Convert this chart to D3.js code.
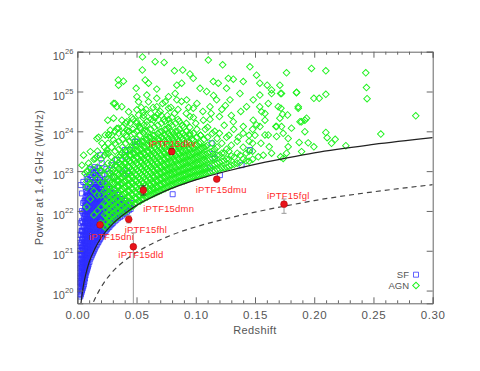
<!DOCTYPE html>
<html>
<head>
<meta charset="utf-8">
<script src="https://cdn.jsdelivr.net/npm/d3@7/dist/d3.min.js"></script>
<style>
    body { margin: 0; background: #fff; }
    svg { display: block; font-family: "Liberation Sans", Arial, sans-serif; }
</style>
</head>
<body>
<svg id="chart" width="480" height="371"></svg>
<script>
// axis ticks
const xMajorTicks = [0, 0.05, 0.10, 0.15, 0.20, 0.25, 0.30];
const xMinorTicks = [0.01, 0.02, 0.03, 0.04, 0.06, 0.07, 0.08, 0.09, 0.11, 0.12, 0.13, 0.14,
    0.16, 0.17, 0.18, 0.19, 0.21, 0.22, 0.23, 0.24, 0.26, 0.27, 0.28, 0.29];
const yTickExps = [20, 21, 22, 23, 24, 25, 26];

// detection limit curves [z, log P]
const solidCurve = [[0.0025, 19.5], [0.003, 19.65], [0.005, 20.1], [0.0075, 20.45], [0.01, 20.71],
    [0.015, 21.06], [0.02, 21.32], [0.03, 21.68], [0.04, 21.93], [0.05, 22.14], [0.06, 22.30],
    [0.075, 22.51], [0.1, 22.78], [0.125, 22.99], [0.15, 23.17], [0.175, 23.32], [0.2, 23.46],
    [0.25, 23.67], [0.3, 23.84]];
const dashedCurve = [[0.0115, 19.5], [0.0125, 19.62], [0.015, 19.8], [0.02, 20.08], [0.03, 20.48],
    [0.04, 20.75], [0.05, 20.96], [0.06, 21.13], [0.08, 21.40], [0.1, 21.6], [0.125, 21.8],
    [0.15, 21.97], [0.175, 22.12], [0.2, 22.26], [0.25, 22.48], [0.3, 22.66]];

// SF galaxies: dense columns [z, [log P ...]] and scattered [z, log P]
const sfColumns = [
    [0.0008, [20.7, 21.0, 21.4]],
    [0.0015, [19.9, 20.1, 20.3, 20.5]],
    [0.002, [19.92, 20.08, 20.25, 20.45, 20.65, 20.9, 21.2]],
    [0.0025, [19.85, 20.0, 20.2, 20.35, 20.55, 20.75, 21.0]],
    [0.003, [19.9, 20.05, 20.18, 20.32, 20.48, 20.68, 20.9, 21.15, 21.4, 21.7]],
    [0.0035, [19.95, 20.1, 20.25, 20.4, 20.6, 20.8, 21.0, 21.2, 21.5]],
    [0.004, [20.0, 20.15, 20.3, 20.45, 20.58, 20.72, 20.9, 21.08, 21.28, 21.5, 21.75, 22.0]],
    [0.0045, [20.05, 20.2, 20.35, 20.5, 20.65, 20.8, 21.0, 21.15, 21.35, 21.6]],
    [0.005, [20.1, 20.25, 20.4, 20.55, 20.7, 20.85, 21.0, 21.12, 21.3, 21.5, 21.72, 21.95, 22.2]],
    [0.0055, [20.15, 20.3, 20.45, 20.6, 20.75, 20.9, 21.05, 21.2, 21.4, 21.6, 21.85]],
    [0.006, [20.22, 20.38, 20.52, 20.68, 20.82, 20.98, 21.12, 21.28, 21.45, 21.62, 21.8, 22.0, 22.25]],
    [0.0065, [20.3, 20.45, 20.6, 20.75, 20.9, 21.05, 21.2, 21.35, 21.5, 21.7, 21.9, 22.1]],
    [0.007, [20.38, 20.52, 20.68, 20.82, 20.98, 21.12, 21.28, 21.42, 21.58, 21.75, 21.92, 22.1, 22.35, 22.6]],
    [0.0075, [20.45, 20.6, 20.75, 20.9, 21.05, 21.2, 21.35, 21.5, 21.65, 21.8, 22.0, 22.2]],
    [0.008, [20.5, 20.65, 20.8, 20.95, 21.1, 21.25, 21.4, 21.55, 21.7, 21.85, 22.0, 22.18, 22.38, 22.6, 22.85]],
    [0.0085, [20.55, 20.7, 20.85, 21.0, 21.15, 21.3, 21.45, 21.6, 21.75, 21.9, 22.05, 22.25, 22.45]],
    [0.009, [20.6, 20.75, 20.9, 21.05, 21.2, 21.35, 21.5, 21.65, 21.8, 21.95, 22.1, 22.25, 22.4, 22.6, 22.8]],
    [0.0095, [20.65, 20.8, 20.95, 21.1, 21.25, 21.4, 21.55, 21.7, 21.85, 22.0, 22.15, 22.3, 22.5]],
    [0.0103, [20.72, 20.88, 21.02, 21.18, 21.32, 21.48, 21.62, 21.78, 21.92, 22.08, 22.22, 22.38, 22.55, 22.72, 22.9]],
    [0.011, [20.8, 20.95, 21.1, 21.25, 21.4, 21.55, 21.7, 21.85, 22.0, 22.15, 22.3, 22.45, 22.6]],
    [0.0118, [20.85, 21.0, 21.15, 21.3, 21.45, 21.6, 21.75, 21.9, 22.05, 22.2, 22.35, 22.5, 22.68, 22.85, 23.05]],
    [0.0125, [20.9, 21.05, 21.2, 21.35, 21.5, 21.65, 21.8, 21.95, 22.1, 22.25, 22.4, 22.55]],
    [0.0133, [20.95, 21.1, 21.25, 21.4, 21.55, 21.7, 21.85, 22.0, 22.15, 22.3, 22.45, 22.6, 22.78, 22.95]],
    [0.014, [21.0, 21.15, 21.3, 21.45, 21.6, 21.75, 21.9, 22.05, 22.2, 22.35, 22.5, 22.7]],
    [0.0148, [21.05, 21.2, 21.35, 21.5, 21.65, 21.8, 21.95, 22.1, 22.25, 22.4, 22.55, 22.72, 22.9, 23.1]],
    [0.0155, [21.1, 21.25, 21.4, 21.55, 21.7, 21.85, 22.0, 22.15, 22.3, 22.45, 22.6]],
    [0.0163, [21.14, 21.28, 21.42, 21.58, 21.72, 21.88, 22.02, 22.18, 22.32, 22.48, 22.65, 22.82, 23.0]],
    [0.017, [21.18, 21.32, 21.46, 21.6, 21.75, 21.9, 22.05, 22.2, 22.35, 22.5, 22.7]],
    [0.0178, [21.22, 21.36, 21.5, 21.65, 21.8, 21.95, 22.1, 22.25, 22.4, 22.55, 22.72, 22.9]],
    [0.0185, [21.26, 21.4, 21.55, 21.7, 21.85, 22.0, 22.15, 22.3, 22.45, 22.6]],
    [0.0193, [21.3, 21.44, 21.58, 21.72, 21.88, 22.02, 22.18, 22.32, 22.48, 22.65, 22.82, 23.0]],
    [0.020, [21.34, 21.48, 21.62, 21.78, 21.92, 22.08, 22.22, 22.38, 22.55]],
    [0.021, [21.38, 21.52, 21.66, 21.8, 21.95, 22.1, 22.25, 22.4, 22.55, 22.72, 22.9]],
    [0.022, [21.42, 21.56, 21.7, 21.85, 22.0, 22.15, 22.3, 22.45]],
    [0.023, [21.46, 21.6, 21.74, 21.88, 22.03, 22.18, 22.32, 22.48, 22.64, 22.8]],
    [0.024, [21.5, 21.64, 21.78, 21.92, 22.06, 22.2, 22.35, 22.5]],
    [0.025, [21.54, 21.68, 21.82, 21.96, 22.1, 22.25, 22.4, 22.55, 22.72]],
    [0.026, [21.58, 21.72, 21.86, 22.0, 22.15, 22.3, 22.45]],
    [0.027, [21.6, 21.74, 21.88, 22.02, 22.16, 22.3, 22.45, 22.6]],
    [0.028, [21.64, 21.78, 21.92, 22.06, 22.2, 22.35]],
    [0.029, [21.67, 21.8, 21.94, 22.08, 22.22, 22.38, 22.55]],
    [0.030, [21.7, 21.84, 21.98, 22.12, 22.28, 22.45]],
    [0.0315, [21.74, 21.88, 22.02, 22.16, 22.3, 22.45]],
    [0.033, [21.78, 21.92, 22.06, 22.2, 22.35]],
    [0.0345, [21.82, 21.95, 22.1, 22.25, 22.4]],
    [0.036, [21.85, 22.0, 22.15, 22.3]],
    [0.0375, [21.88, 22.02, 22.16, 22.3]],
    [0.039, [21.92, 22.05, 22.2]],
    [0.0405, [21.95, 22.1, 22.25]],
    [0.042, [21.98, 22.12]],
    [0.0435, [22.02, 22.16]],
    [0.045, [22.05, 22.2]]
];
const sfScatter = [[0.018, 23.07], [0.0292, 23.15], [0.0334, 23.28], [0.0405, 23.36], [0.0503, 23.74],
    [0.0095, 22.57], [0.0152, 22.86], [0.0039, 22.44], [0.022, 22.74], [0.0067, 22.27], [0.0264, 22.94],
    [0.0447, 23.53], [0.0192, 23.40], [0.0135, 23.03], [0.0206, 23.2], [0.0107, 22.73], [0.0051, 22.73],
    [0.0028, 22.65], [0.0403, 23.53], [0.0487, 23.74], [0.0388, 22.94], [0.1148, 23.43], [0.116, 23.32],
    [0.1134, 23.70], [0.1457, 23.53], [0.1387, 23.15], [0.1204, 22.9], [0.112, 23.07], [0.0805, 22.42],
    [0.0345, 22.62], [0.0312, 22.85], [0.0158, 22.95], [0.0075, 22.48], [0.0245, 23.05], [0.0422, 23.0]];

// AGN: dense columns and scattered
const agnColumns = [
    [0.008, [22.1, 22.6, 23.0]],
    [0.011, [22.3, 22.7, 23.1]],
    [0.014, [21.9, 22.5, 22.9, 23.3]],
    [0.017, [22.0, 22.4, 22.8, 23.1, 23.5]],
    [0.020, [21.7, 22.1, 22.4, 22.7, 23.0, 23.3]],
    [0.023, [21.6, 21.9, 22.2, 22.5, 22.7, 22.9, 23.1, 23.4, 23.6]],
    [0.0245, [21.58, 21.72, 21.88, 22.03, 22.18, 22.35, 22.52, 22.68]],
    [0.026, [21.65, 21.8, 21.95, 22.1, 22.3, 22.45, 22.6, 22.8, 23.0, 23.2, 23.45, 23.7]],
    [0.0275, [21.68, 21.83, 21.98, 22.13, 22.28, 22.43, 22.6, 22.77, 22.95]],
    [0.029, [21.75, 21.9, 22.05, 22.2, 22.35, 22.5, 22.7, 22.85, 23.0, 23.2, 23.35, 23.6, 23.9]],
    [0.0305, [21.77, 21.92, 22.07, 22.22, 22.38, 22.53, 22.68, 22.85, 23.05]],
    [0.032, [21.8, 21.95, 22.1, 22.25, 22.4, 22.55, 22.7, 22.85, 23.0, 23.15, 23.3, 23.5, 23.7, 24.0]],
    [0.0335, [21.85, 22.0, 22.15, 22.3, 22.45, 22.62, 22.78, 22.95, 23.12]],
    [0.035, [21.88, 22.0, 22.15, 22.3, 22.45, 22.6, 22.75, 22.9, 23.05, 23.2, 23.35, 23.55, 23.75, 23.95]],
    [0.0365, [21.92, 22.07, 22.22, 22.37, 22.52, 22.68, 22.83, 23.0, 23.18, 23.4]],
    [0.038, [21.95, 22.1, 22.25, 22.4, 22.55, 22.7, 22.85, 23.0, 23.15, 23.3, 23.45, 23.6, 23.8, 24.1]],
    [0.0395, [21.98, 22.13, 22.28, 22.43, 22.58, 22.73, 22.88, 23.03, 23.2, 23.4]],
    [0.041, [22.0, 22.15, 22.3, 22.45, 22.6, 22.75, 22.9, 23.05, 23.2, 23.35, 23.5, 23.7, 23.9, 24.2]],
    [0.0425, [22.05, 22.2, 22.35, 22.5, 22.65, 22.8, 22.95, 23.12, 23.3, 23.5]],
    [0.044, [22.07, 22.2, 22.35, 22.5, 22.65, 22.8, 22.95, 23.1, 23.25, 23.4, 23.55, 23.75, 24.0]],
    [0.0455, [22.12, 22.27, 22.42, 22.57, 22.72, 22.88, 23.05, 23.22, 23.4, 23.6]],
    [0.047, [22.12, 22.25, 22.4, 22.55, 22.7, 22.85, 23.0, 23.15, 23.3, 23.45, 23.6, 23.8, 24.05, 24.3]],
    [0.0485, [22.18, 22.33, 22.48, 22.63, 22.78, 22.93, 23.1, 23.27, 23.45, 23.65]],
    [0.050, [22.2, 22.32, 22.45, 22.6, 22.75, 22.9, 23.05, 23.2, 23.35, 23.5, 23.65, 23.8, 24.0, 24.2]],
    [0.0515, [22.24, 22.39, 22.54, 22.69, 22.84, 23.0, 23.16, 23.33, 23.5, 23.7]],
    [0.053, [22.24, 22.38, 22.5, 22.65, 22.8, 22.95, 23.1, 23.25, 23.4, 23.55, 23.7, 23.9, 24.1]],
    [0.0545, [22.29, 22.44, 22.59, 22.74, 22.9, 23.06, 23.22, 23.38, 23.55, 23.75]],
    [0.056, [22.3, 22.42, 22.55, 22.7, 22.85, 23.0, 23.15, 23.3, 23.45, 23.6, 23.75, 23.95, 24.15, 24.4]],
    [0.0575, [22.34, 22.49, 22.64, 22.79, 22.95, 23.1, 23.26, 23.42, 23.6, 23.8]],
    [0.059, [22.35, 22.48, 22.6, 22.75, 22.9, 23.05, 23.2, 23.35, 23.5, 23.65, 23.8, 24.0, 24.25]],
    [0.0605, [22.38, 22.53, 22.68, 22.84, 23.0, 23.16, 23.32, 23.48, 23.65, 23.85]],
    [0.062, [22.4, 22.52, 22.65, 22.8, 22.95, 23.1, 23.25, 23.4, 23.55, 23.7, 23.85, 24.05, 24.3]],
    [0.0635, [22.42, 22.57, 22.72, 22.88, 23.04, 23.2, 23.36, 23.52, 23.7, 23.9]],
    [0.065, [22.44, 22.56, 22.7, 22.85, 23.0, 23.15, 23.3, 23.45, 23.6, 23.75, 23.9, 24.1, 24.35]],
    [0.0665, [22.46, 22.61, 22.76, 22.92, 23.08, 23.24, 23.4, 23.56, 23.74]],
    [0.068, [22.48, 22.6, 22.75, 22.9, 23.05, 23.2, 23.35, 23.5, 23.65, 23.8, 23.95, 24.15]],
    [0.0695, [22.5, 22.65, 22.8, 22.96, 23.12, 23.28, 23.44, 23.6, 23.78, 23.98]],
    [0.071, [22.52, 22.65, 22.8, 22.95, 23.1, 23.25, 23.4, 23.55, 23.7, 23.85, 24.0, 24.2, 24.4]],
    [0.0725, [22.55, 22.7, 22.85, 23.0, 23.16, 23.32, 23.48, 23.64, 23.82]],
    [0.074, [22.56, 22.7, 22.85, 23.0, 23.15, 23.3, 23.45, 23.6, 23.75, 23.9, 24.05, 24.25]],
    [0.0755, [22.59, 22.74, 22.89, 23.04, 23.2, 23.36, 23.52, 23.68, 23.86, 24.05]],
    [0.077, [22.6, 22.74, 22.9, 23.05, 23.2, 23.35, 23.5, 23.65, 23.8, 23.95, 24.1, 24.3]],
    [0.0785, [22.63, 22.78, 22.93, 23.08, 23.24, 23.4, 23.56, 23.72, 23.9]],
    [0.080, [22.64, 22.78, 22.92, 23.08, 23.22, 23.38, 23.52, 23.68, 23.82, 23.98, 24.15, 24.35]],
    [0.0815, [22.66, 22.81, 22.96, 23.12, 23.28, 23.44, 23.6, 23.76, 23.94]],
    [0.083, [22.68, 22.82, 22.96, 23.1, 23.26, 23.4, 23.56, 23.7, 23.86, 24.0, 24.2]],
    [0.0845, [22.7, 22.85, 23.0, 23.16, 23.32, 23.48, 23.64, 23.8, 24.0]],
    [0.086, [22.72, 22.86, 23.0, 23.15, 23.3, 23.45, 23.6, 23.75, 23.9, 24.05, 24.25]],
    [0.0875, [22.73, 22.88, 23.03, 23.19, 23.35, 23.51, 23.67, 23.85]],
    [0.089, [22.75, 22.9, 23.05, 23.2, 23.35, 23.5, 23.65, 23.8, 23.95, 24.15]],
    [0.0905, [22.76, 22.91, 23.06, 23.22, 23.38, 23.54, 23.7, 23.9]],
    [0.092, [22.78, 22.92, 23.08, 23.22, 23.38, 23.52, 23.68, 23.85, 24.0, 24.2]],
    [0.0935, [22.8, 22.95, 23.1, 23.26, 23.42, 23.58, 23.76]],
    [0.095, [22.82, 22.96, 23.1, 23.26, 23.4, 23.56, 23.72, 23.9, 24.1]],
    [0.0965, [22.83, 22.98, 23.13, 23.29, 23.45, 23.62, 23.8]],
    [0.098, [22.85, 23.0, 23.15, 23.3, 23.45, 23.6, 23.78, 23.95]],
    [0.0995, [22.86, 23.01, 23.16, 23.32, 23.48, 23.66]],
    [0.101, [22.88, 23.02, 23.18, 23.34, 23.5, 23.66, 23.85, 24.05]],
    [0.1025, [22.88, 23.03, 23.18, 23.35, 23.52, 23.7]],
    [0.104, [22.9, 23.05, 23.2, 23.38, 23.55, 23.72, 23.9]],
    [0.1055, [22.91, 23.06, 23.22, 23.4, 23.58]],
    [0.107, [22.92, 23.08, 23.25, 23.42, 23.6, 23.8]],
    [0.1085, [22.93, 23.08, 23.25, 23.42, 23.62]],
    [0.110, [22.95, 23.1, 23.28, 23.45, 23.65, 23.85, 24.1]],
    [0.112, [22.97, 23.12, 23.3, 23.48]],
    [0.114, [23.0, 23.15, 23.32, 23.5, 23.7, 23.95]],
    [0.116, [23.01, 23.17, 23.35, 23.55]],
    [0.118, [23.04, 23.2, 23.4, 23.6, 23.82]],
    [0.120, [23.05, 23.22, 23.4]],
    [0.122, [23.08, 23.25, 23.45, 23.7]],
    [0.124, [23.08, 23.26, 23.45]],
    [0.126, [23.1, 23.3, 23.55, 23.85]],
    [0.128, [23.12, 23.3, 23.5]],
    [0.130, [23.15, 23.38, 23.65]],
    [0.1325, [23.17, 23.35]],
    [0.135, [23.2, 23.45, 23.75]],
    [0.1375, [23.22, 23.4]],
    [0.140, [23.3, 23.6]],
    [0.1425, [23.26, 23.45]],
    [0.145, [23.25, 23.5, 23.9]],
    [0.148, [23.3, 23.5, 23.7]]
];
const agnScatter = [
    // upper left
    [0.055, 25.87], [0.0657, 25.75], [0.0733, 25.73], [0.082, 25.52], [0.039, 25.26], [0.0348, 25.16],
    [0.0497, 25.08], [0.0573, 25.29], [0.0601, 25.21], [0.0671, 25.06], [0.084, 25.16], [0.0826, 24.95],
    [0.0503, 24.87], [0.0587, 24.91], [0.0517, 24.74], [0.0601, 24.74], [0.0671, 24.83], [0.077, 24.87],
    [0.0742, 24.74], [0.0306, 24.70], [0.0334, 24.62], [0.0376, 24.62], [0.0433, 24.49], [0.0503, 24.54],
    [0.0517, 24.41], [0.0559, 24.49], [0.0671, 24.62], [0.0685, 24.45], [0.077, 24.58], [0.0306, 24.33],
    [0.0376, 24.28], [0.0419, 24.24], [0.0447, 24.20], [0.0348, 24.08], [0.0419, 24.03], [0.0503, 24.24],
    [0.0559, 24.33], [0.0264, 23.91], [0.018, 23.85], [0.0419, 23.87], [0.0531, 24.08], [0.0587, 24.16],
    [0.0643, 24.28], [0.084, 24.79], [0.0549, 25.54], [0.0346, 25.29], [0.0318, 24.70], [0.0257, 24.28],
    [0.0265, 23.92], [0.0164, 23.36], [0.0084, 22.98], [0.0065, 22.94], [0.0243, 23.45],
    [0.0166, 23.82], [0.0208, 23.70], [0.011, 23.49], [0.0053, 23.40], [0.0039, 23.15], [0.0095, 23.2],
    [0.0152, 23.32], [0.0236, 23.91], [0.0278, 24.03], [0.0334, 24.07], [0.0306, 23.78], [0.039, 23.95],
    [0.025, 23.53], [0.0194, 23.03], [0.0081, 22.74],
    [0.062, 24.45], [0.066, 24.35], [0.07, 24.5], [0.073, 24.3], [0.076, 24.4], [0.079, 24.6],
    [0.082, 24.45], [0.085, 24.3], [0.072, 24.7], [0.078, 24.2], [0.064, 24.6], [0.058, 24.55],
    [0.054, 24.6], [0.046, 24.35], [0.043, 24.0], [0.048, 23.95], [0.052, 24.15], [0.057, 24.0],
    // middle
    [0.1106, 25.79], [0.1227, 25.67], [0.1457, 25.62], [0.089, 25.54], [0.0951, 25.44], [0.0979, 25.33],
    [0.1766, 25.47], [0.1275, 25.33], [0.1317, 25.31], [0.1401, 25.25], [0.1513, 25.41], [0.1541, 25.21],
    [0.1603, 25.16], [0.1148, 25.25], [0.119, 25.21], [0.0881, 25.21], [0.126, 25.08], [0.1036, 25.08],
    [0.1092, 25.0], [0.1373, 24.95], [0.1541, 24.91], [0.164, 24.95], [0.1724, 24.95], [0.185, 24.97],
    [0.0923, 24.79], [0.1176, 24.79], [0.1289, 24.79], [0.1485, 24.79], [0.1612, 24.70], [0.1696, 24.62],
    [0.1865, 24.58], [0.0979, 24.58], [0.112, 24.62], [0.1429, 24.62], [0.1556, 24.49], [0.1921, 24.28],
    [0.188, 24.24], [0.171, 24.33], [0.1513, 24.16], [0.1584, 24.28], [0.1682, 24.12], [0.1808, 24.08],
    [0.1738, 23.95], [0.1921, 23.99], [0.1612, 23.91], [0.1401, 24.12], [0.1317, 24.24], [0.12, 24.37],
    [0.1064, 24.28], [0.0951, 24.37],
    [0.09, 24.1], [0.095, 23.95], [0.1, 24.2], [0.104, 23.9], [0.108, 24.05], [0.112, 24.3],
    [0.116, 24.0], [0.12, 23.95], [0.124, 24.15], [0.128, 23.9], [0.132, 24.05], [0.136, 23.85],
    [0.14, 23.95], [0.145, 23.75], [0.15, 23.9], [0.155, 23.7], [0.148, 24.05], [0.092, 24.45],
    [0.098, 24.35], [0.106, 24.5], [0.113, 24.45], [0.122, 24.55], [0.13, 24.4], [0.138, 24.5],
    [0.085, 24.55], [0.088, 24.75], [0.094, 24.6], [0.101, 24.7], [0.115, 24.9], [0.125, 24.65],
    // right
    [0.1977, 25.58], [0.2098, 25.52], [0.2435, 25.47], [0.2441, 25.10], [0.2446, 24.82], [0.1851, 24.98],
    [0.1997, 24.83], [0.2042, 24.83], [0.2098, 24.93], [0.1716, 24.95], [0.1865, 24.62], [0.1935, 24.33],
    [0.1893, 24.24], [0.2857, 24.39], [0.2562, 23.93], [0.2098, 23.97], [0.2109, 23.84], [0.2177, 23.80],
    [0.2146, 23.70], [0.2267, 23.64], [0.1997, 23.61], [0.1949, 23.71], [0.1873, 23.72], [0.1893, 23.49],
    [0.178, 23.82], [0.178, 23.61], [0.1766, 23.45], [0.1716, 23.36], [0.1738, 23.32], [0.164, 23.45],
    [0.162, 23.61], [0.1682, 23.87], [0.1724, 24.12], [0.1676, 24.12], [0.1733, 24.43], [0.1775, 24.41],
    [0.1719, 24.58], [0.157, 23.40], [0.1528, 23.36], [0.1584, 23.91], [0.1542, 24.12], [0.1485, 24.28],
    [0.1584, 24.45], [0.164, 25.04], [0.171, 25.16], [0.154, 24.62]
];

// iPTF transients
const iptfNames = ['iPTF15dkv', 'iPTF15dmu', 'iPTF15dmn', 'iPTF15fhl', 'iPTF15dni', 'iPTF15dld', 'iPTF15fgl'];
const iptfZ = [0.0797, 0.1177, 0.0557, 0.0434, 0.0192, 0.0473, 0.1745];
const iptfLogP = [23.49, 22.80, 22.52, 21.79, 21.65, 21.10, 22.17];
const iptfLogPLow = [23.42, 22.77, 22.40, 21.70, 21.60, 19.0, 21.94];
const iptfLogPHigh = [23.57, 22.83, 22.63, 21.88, 21.70, 21.45, 22.30];

// layout for labels (text anchor start, offset from the point)
const labelOffsets = [[-23, -5], [-21, 14], [0, 21.5], [-4, 14], [-11, 15], [-15, 11], [-17, -5]];
const greyBars = [false, false, false, true, false, true, true];

const plot = { left: 77.3, right: 432.7, top: 51.7, bottom: 303.3 };

const svg = d3.select('#chart');

const x = d3.scaleLinear().domain([0, 0.3]).range([plot.left, plot.right]);
const y = d3.scaleLog().domain([Math.pow(10, 19.68), 1e26]).range([plot.bottom, plot.top]);
const py = v => y(Math.pow(10, v));

svg.append('defs').append('clipPath').attr('id', 'plotClip')
    .append('rect')
        .attr('x', plot.left).attr('y', plot.top)
        .attr('width', plot.right - plot.left).attr('height', plot.bottom - plot.top);

const sfPoints = sfColumns.flatMap(c => c[1].map(p => [c[0], p])).concat(sfScatter);
const agnPoints = agnColumns.flatMap(c => c[1].map(p => [c[0], p])).concat(agnScatter);

const marks = svg.append('g').attr('clip-path', 'url(#plotClip)');

const square = d3.symbol(d3.symbolSquare, 25)();
const diamond = d3.symbol(d3.symbolSquare, 22)();
const sfColor = '#2f2fff', agnColor = '#1ef21e';

marks.append('g').selectAll('path')
    .data(sfPoints).enter()
    .append('path')
        .attr('d', square)
        .attr('transform', d => 'translate(' + x(d[0]) + ',' + py(d[1]) + ')')
        .attr('fill', 'none')
        .attr('stroke', sfColor)
        .attr('stroke-width', 0.8);

marks.append('g').selectAll('path')
    .data(agnPoints).enter()
    .append('path')
        .attr('d', diamond)
        .attr('transform', d => 'translate(' + x(d[0]) + ',' + py(d[1]) + ') rotate(45)')
        .attr('fill', 'none')
        .attr('stroke', agnColor)
        .attr('stroke-width', 0.95);

const line = d3.line()
    .x(d => x(d[0]))
    .y(d => py(d[1]))
    .curve(d3.curveMonotoneX);

marks.append('path')
    .attr('d', line(dashedCurve))
    .attr('fill', 'none')
    .attr('stroke', '#444')
    .attr('stroke-width', 1.2)
    .attr('stroke-dasharray', '5,4');

marks.append('path')
    .attr('d', line(solidCurve))
    .attr('fill', 'none')
    .attr('stroke', '#222')
    .attr('stroke-width', 1.2);

// error bars
const bars = marks.append('g');
iptfNames.forEach(function(name, i) {
    const cx = x(iptfZ[i]);
    const col = greyBars[i] ? '#999' : '#333';
    bars.append('line')
        .attr('x1', cx).attr('x2', cx)
        .attr('y1', py(iptfLogPHigh[i])).attr('y2', py(iptfLogPLow[i]))
        .attr('stroke', col).attr('stroke-width', 1);
    [iptfLogPHigh[i], iptfLogPLow[i]].forEach(function(v) {
        bars.append('line')
            .attr('x1', cx - 2.5).attr('x2', cx + 2.5)
            .attr('y1', py(v)).attr('y2', py(v))
            .attr('stroke', col).attr('stroke-width', 1);
    });
});

marks.append('g').selectAll('circle')
    .data(iptfNames).enter()
    .append('circle')
        .attr('cx', (d, i) => x(iptfZ[i]))
        .attr('cy', (d, i) => py(iptfLogP[i]))
        .attr('r', 3.4)
        .attr('fill', '#e8141b')
        .attr('stroke', '#a00')
        .attr('stroke-width', 0.5);

svg.append('g').selectAll('text')
    .data(iptfNames).enter()
    .append('text')
        .attr('x', (d, i) => x(iptfZ[i]) + labelOffsets[i][0])
        .attr('y', (d, i) => py(iptfLogP[i]) + labelOffsets[i][1])
        .attr('fill', '#ff2a2a')
        .attr('font-size', '9.5px')
        .attr('letter-spacing', '0.2px')
        .text(d => d);

// axes
const axisCol = '#666';
function styleAxis(g) {
    g.selectAll('path.domain').attr('stroke', axisCol);
    g.selectAll('.tick line').attr('stroke', axisCol);
    g.selectAll('.tick text').attr('fill', '#555');
}

svg.append('g')
    .attr('transform', 'translate(0,' + plot.bottom + ')')
    .call(d3.axisBottom(x).tickValues(xMajorTicks).tickSize(-6).tickPadding(8).tickFormat(d3.format('.2f')))
    .call(styleAxis)
    .call(g => g.selectAll('.tick text').attr('font-size', '11.5px').attr('font-family', 'Liberation Sans, Arial, sans-serif').attr('letter-spacing', '0.6px'));

svg.append('g')
    .attr('transform', 'translate(0,' + plot.bottom + ')')
    .call(d3.axisBottom(x).tickValues(xMinorTicks).tickSize(-3).tickFormat(''))
    .call(styleAxis)
    .call(g => g.select('path.domain').remove());

svg.append('g')
    .attr('transform', 'translate(0,' + plot.top + ')')
    .call(d3.axisTop(x).tickValues(xMajorTicks).tickSize(-6).tickFormat(''))
    .call(styleAxis);

svg.append('g')
    .attr('transform', 'translate(0,' + plot.top + ')')
    .call(d3.axisTop(x).tickValues(xMinorTicks).tickSize(-3).tickFormat(''))
    .call(styleAxis)
    .call(g => g.select('path.domain').remove());

const yTickVals = yTickExps.map(e => Math.pow(10, e));

const yAxisG = svg.append('g')
    .attr('transform', 'translate(' + plot.left + ',0)')
    .call(d3.axisLeft(y).tickValues(yTickVals).tickSize(-6).tickPadding(4).tickFormat(''))
    .call(styleAxis);

yAxisG.selectAll('.tick text')
    .attr('dy', null)
    .attr('y', 7.5)
    .attr('font-size', '11px')
    .attr('font-family', 'Liberation Sans, Arial, sans-serif')
    .each(function(d) {
        const t = d3.select(this);
        t.append('tspan').text('10');
        t.append('tspan')
            .attr('dy', -6)
            .attr('font-size', '7.5px')
            .text(Math.round(Math.log10(d)));
    });

svg.append('g')
    .attr('transform', 'translate(' + plot.right + ',0)')
    .call(d3.axisRight(y).tickValues(yTickVals).tickSize(-6).tickFormat(''))
    .call(styleAxis);

// axis titles
svg.append('text')
    .attr('x', (plot.left + plot.right) / 2)
    .attr('y', 333.5)
    .attr('text-anchor', 'middle')
    .attr('fill', '#555')
    .attr('font-size', '11px')
    .attr('letter-spacing', '0.4px')
    .text('Redshift');

svg.append('text')
    .attr('transform', 'translate(43,' + (plot.top + plot.bottom) / 2 + ') rotate(-90)')
    .attr('text-anchor', 'middle')
    .attr('fill', '#555')
    .attr('font-size', '11px')
    .attr('letter-spacing', '0.5px')
    .text('Power at 1.4 GHz (W/Hz)');

// legend
const legend = svg.append('g');
legend.append('text')
    .attr('x', 409).attr('y', 278)
    .attr('text-anchor', 'end').attr('fill', '#555').attr('font-size', '9.5px')
    .text('SF');
legend.append('path')
    .attr('d', square)
    .attr('transform', 'translate(416,274.7)')
    .attr('fill', 'none').attr('stroke', sfColor).attr('stroke-width', 0.75);
legend.append('text')
    .attr('x', 409).attr('y', 289)
    .attr('text-anchor', 'end').attr('fill', '#555').attr('font-size', '9.5px')
    .text('AGN');
legend.append('path')
    .attr('d', diamond)
    .attr('transform', 'translate(416,285.5) rotate(45)')
    .attr('fill', 'none').attr('stroke', agnColor).attr('stroke-width', 1);
</script>
</body>
</html>
